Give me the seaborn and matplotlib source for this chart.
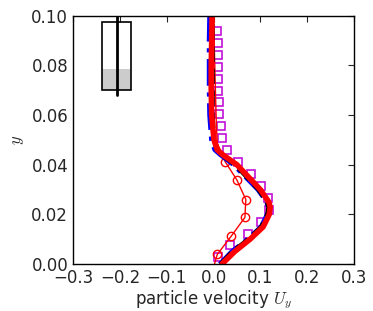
import numpy as np
import pandas as pd
import matplotlib
matplotlib.use("Agg")
import matplotlib.pyplot as plt
import matplotlib.patches as patches
import seaborn as sns

# profile height for the continuous curves
y_curve = [0.0, 0.005, 0.01, 0.015, 0.02, 0.023, 0.025, 0.03, 0.035, 0.04,
           0.044, 0.046, 0.05, 0.06, 0.07, 0.08, 0.09, 0.1]
u_red = [0.018, 0.045, 0.078, 0.106, 0.119, 0.121, 0.118, 0.100, 0.075, 0.050,
         0.020, 0.008, 0.001, -0.004, -0.005, -0.005, -0.004, -0.003]
u_black = [0.015, 0.040, 0.074, 0.102, 0.115, 0.117, 0.114, 0.096, 0.071, 0.046,
           0.018, 0.007, 0.001, -0.002, -0.002, -0.002, -0.002, -0.002]
u_blue = [0.013, 0.038, 0.072, 0.101, 0.114, 0.116, 0.113, 0.094, 0.068, 0.042,
          0.014, 0.002, -0.005, -0.009, -0.010, -0.010, -0.010, -0.009]

# square markers
y_sq = [0.0027, 0.0075, 0.0123, 0.0171, 0.0219, 0.0267, 0.0315, 0.0363, 0.0411, 0.0459,
        0.0507, 0.0555, 0.0603, 0.0651, 0.0699, 0.0747, 0.0795, 0.0843, 0.0891, 0.0937]
u_sq = [0.010, 0.035, 0.074, 0.102, 0.119, 0.116, 0.101, 0.080, 0.052, 0.028,
        0.018, 0.015, 0.0126, 0.011, 0.010, 0.010, 0.009, 0.009, 0.009, 0.008]

# circle markers (lower part) and the thin line that carries on upward
y_ci = [0.0039, 0.0113, 0.0188, 0.026, 0.034, 0.0413]
u_ci = [0.008, 0.038, 0.067, 0.069, 0.0495, 0.0246]
y_thin = [0.0, 0.0039, 0.0113, 0.0188, 0.026, 0.034, 0.0413, 0.0488, 0.056, 0.07, 0.085, 0.1]
u_thin = [0.002, 0.008, 0.038, 0.067, 0.069, 0.0495, 0.0246, 0.008, 0.006, 0.004, 0.002, 0.0]

sns.set_style("white")
plt.rcParams['font.family'] = ['DejaVu Sans']
plt.rcParams['font.size'] = 12
plt.rcParams['mathtext.fontset'] = 'cm'

fig = plt.figure(figsize=(3.73, 3.11), dpi=100)
ax = fig.add_axes([0.196, 0.151, 0.753, 0.798])

sns.lineplot(x=u_sq, y=y_sq, ax=ax, sort=False, estimator=None, linestyle='none',
             marker='s', markersize=5.5, markerfacecolor='none', markeredgecolor='#c010d8',
             markeredgewidth=1.2)
sns.lineplot(x=u_thin, y=y_thin, ax=ax, sort=False, estimator=None, color='red', linewidth=1)
sns.lineplot(x=u_ci, y=y_ci, ax=ax, sort=False, estimator=None, linestyle='none',
             marker='o', markersize=6, markerfacecolor='none', markeredgecolor='red',
             markeredgewidth=1)
sns.lineplot(x=u_blue, y=y_curve, ax=ax, sort=False, estimator=None, color='blue',
             linewidth=3, linestyle='-.')
sns.lineplot(x=u_black, y=y_curve, ax=ax, sort=False, estimator=None, color='black',
             linewidth=3, linestyle='--')
sns.lineplot(x=u_red, y=y_curve, ax=ax, sort=False, estimator=None, color='red',
             linewidth=4)

# inset sketch of the column
ax.add_patch(patches.Rectangle((-0.238, 0.0702), 0.062, 0.0084, facecolor='#cccccc',
                               edgecolor='none'))
ax.add_patch(patches.Rectangle((-0.238, 0.0702), 0.062, 0.0274, facecolor='none',
                               edgecolor='black', linewidth=1.2))
ax.plot([-0.207, -0.207], [0.068, 0.0996], color='black', linewidth=2)

ax.set_xlim(-0.3, 0.3)
ax.set_ylim(0.0, 0.1)
ax.set_xticks([-0.3, -0.2, -0.1, 0.0, 0.1, 0.2, 0.3])
ax.set_yticks([0.0, 0.02, 0.04, 0.06, 0.08, 0.1])
ax.set_yticklabels(['0.00', '0.02', '0.04', '0.06', '0.08', '0.10'])
ax.tick_params(direction='in', top=True, right=True, length=4, width=0.8, labelsize=12)
for s in ax.spines.values():
    s.set_color('black')
    s.set_linewidth(1)
ax.set_xlabel('particle velocity $U_y$', fontsize=12, labelpad=1)
ax.set_ylabel('$y$', fontsize=12)

fig.savefig('out.png', dpi=100)
